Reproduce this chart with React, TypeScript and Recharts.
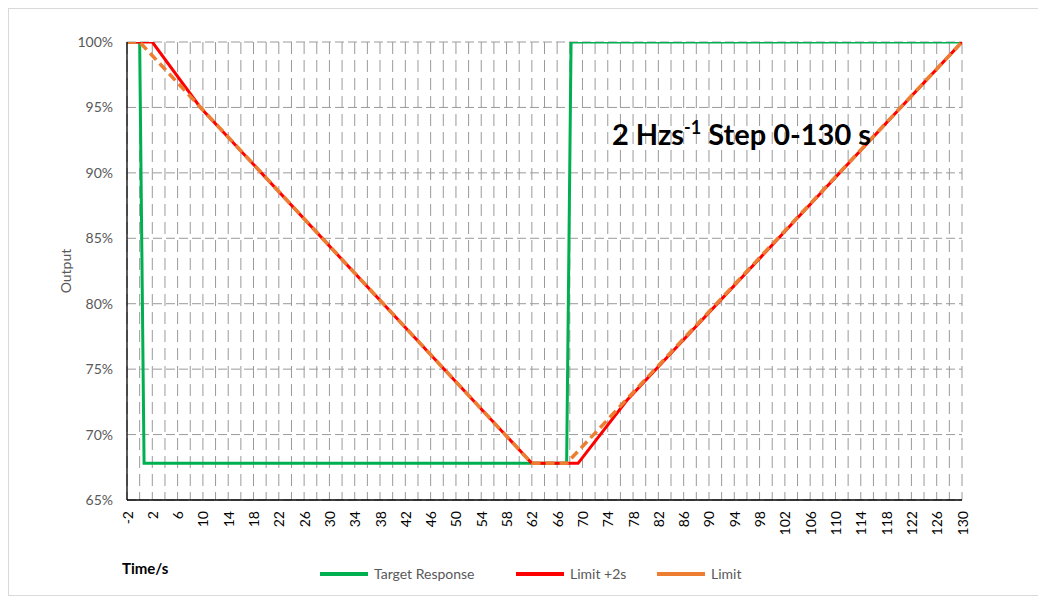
import {
  CartesianGrid,
  Line,
  LineChart,
  XAxis,
  YAxis,
} from "recharts";

// time (s) and output (fraction of full) for each series
const targetTime = [-2, 0, 0.7, 67.5, 68.2, 130];
const targetOutput = [1, 1, 0.678, 0.678, 1, 1];

const limit2Time = [-2, 2, 9.6, 62, 69.3, 77, 130];
const limit2Output = [1, 1, 0.95, 0.678, 0.678, 0.726, 1];

const limitTime = [-2, 0, 62, 67.5, 130];
const limitOutput = [1, 1, 0.678, 0.678, 1];

const xTicks = Array.from({ length: 67 }, (_, i) => -2 + i * 2);
const yTicks = [0.65, 0.7, 0.75, 0.8, 0.85, 0.9, 0.95, 1];

const toRows = (t: number[], v: number[]) => t.map((x, i) => ({ t: x, v: v[i] }));

const FONT = "Lato, 'Open Sans', sans-serif";
const GREEN = "#00B050";
const RED = "#FF0000";
const ORANGE = "#ED7D31";

function XTick(props: any) {
  const { x, y, payload } = props;
  if ((payload.value + 2) % 4 !== 0) return null;
  const ty = y + 3;
  return (
    <text
      x={x}
      y={ty}
      transform={`rotate(-90 ${x} ${ty})`}
      textAnchor="end"
      dominantBaseline="central"
      fontFamily={FONT}
      fontSize={14}
      fill="#000"
    >
      {payload.value}
    </text>
  );
}

const legendItems = [
  { name: "Target Response", color: GREEN, left: 311 },
  { name: "Limit +2s", color: RED, left: 507 },
  { name: "Limit", color: ORANGE, left: 648 },
];

export default function App() {
  return (
    <div
      style={{
        position: "relative",
        width: 1030,
        height: 586,
        border: "1px solid #d9d9d9",
        fontFamily: FONT,
        background: "#fff",
      }}
    >
      <LineChart
        width={1030}
        height={586}
        margin={{ top: 33, right: 77, left: 0, bottom: 0 }}
      >
        <CartesianGrid
          horizontal={false}
          stroke="#9a9a9a"
          strokeDasharray="12 6"
        />
        <CartesianGrid
          vertical={false}
          stroke="#9a9a9a"
          strokeDasharray="9 4"
        />
        <XAxis
          type="number"
          dataKey="t"
          domain={[-2, 130]}
          ticks={xTicks}
          interval={0}
          tickLine={false}
          axisLine={{ stroke: "#000", strokeWidth: 1.3 }}
          tick={<XTick />}
          height={95}
          allowDataOverflow
        />
        <XAxis
          xAxisId="top"
          orientation="top"
          type="number"
          domain={[-2, 130]}
          height={0}
          tick={false}
          tickLine={false}
          axisLine={{ stroke: "#000", strokeWidth: 1.3 }}
        />
        <YAxis
          type="number"
          domain={[0.65, 1]}
          ticks={yTicks}
          interval={0}
          width={118}
          tickLine={false}
          axisLine={{ stroke: "#000", strokeWidth: 1.3 }}
          tickFormatter={(v: number) => `${Math.round(v * 100)}%`}
          tick={{ fill: "#595959", fontSize: 14, fontFamily: FONT }}
          tickMargin={8}
          label={{
            value: "Output",
            angle: -90,
            position: "insideLeft",
            offset: 57,
            style: { fill: "#595959", fontSize: 14, fontFamily: FONT, textAnchor: "middle" },
          }}
          allowDataOverflow
        />
        <YAxis
          yAxisId="right"
          orientation="right"
          type="number"
          domain={[0.65, 1]}
          width={0}
          tick={false}
          tickLine={false}
          axisLine={{ stroke: "#000", strokeWidth: 1.3 }}
        />
        <Line
          data={toRows(targetTime, targetOutput)}
          dataKey="v"
          stroke={GREEN}
          strokeWidth={3}
          dot={false}
          isAnimationActive={false}
        />
        <Line
          data={toRows(limit2Time, limit2Output)}
          dataKey="v"
          stroke={RED}
          strokeWidth={3}
          dot={false}
          isAnimationActive={false}
        />
        <Line
          data={toRows(limitTime, limitOutput)}
          dataKey="v"
          stroke={ORANGE}
          strokeWidth={3.5}
          strokeDasharray="9 5"
          dot={false}
          isAnimationActive={false}
        />
      </LineChart>

      <div
        style={{
          position: "absolute",
          left: 603,
          top: 107,
          fontSize: 29,
          fontWeight: 700,
          color: "#000",
          whiteSpace: "nowrap",
        }}
      >
        2 Hzs<sup style={{ fontSize: 18 }}>-1</sup> Step 0-130 s
      </div>

      <div
        style={{
          position: "absolute",
          left: 113,
          top: 550,
          fontSize: 15,
          fontWeight: 700,
          color: "#000",
        }}
      >
        Time/s
      </div>

      {legendItems.map((it) => (
        <div
          key={it.name}
          style={{
            position: "absolute",
            left: it.left,
            top: 556,
            display: "flex",
            alignItems: "center",
            fontSize: 14,
            color: "#595959",
            whiteSpace: "nowrap",
          }}
        >
          <span
            style={{
              display: "inline-block",
              width: 48,
              height: 4,
              background: it.color,
              marginRight: 6,
            }}
          />
          {it.name}
        </div>
      ))}
    </div>
  );
}
